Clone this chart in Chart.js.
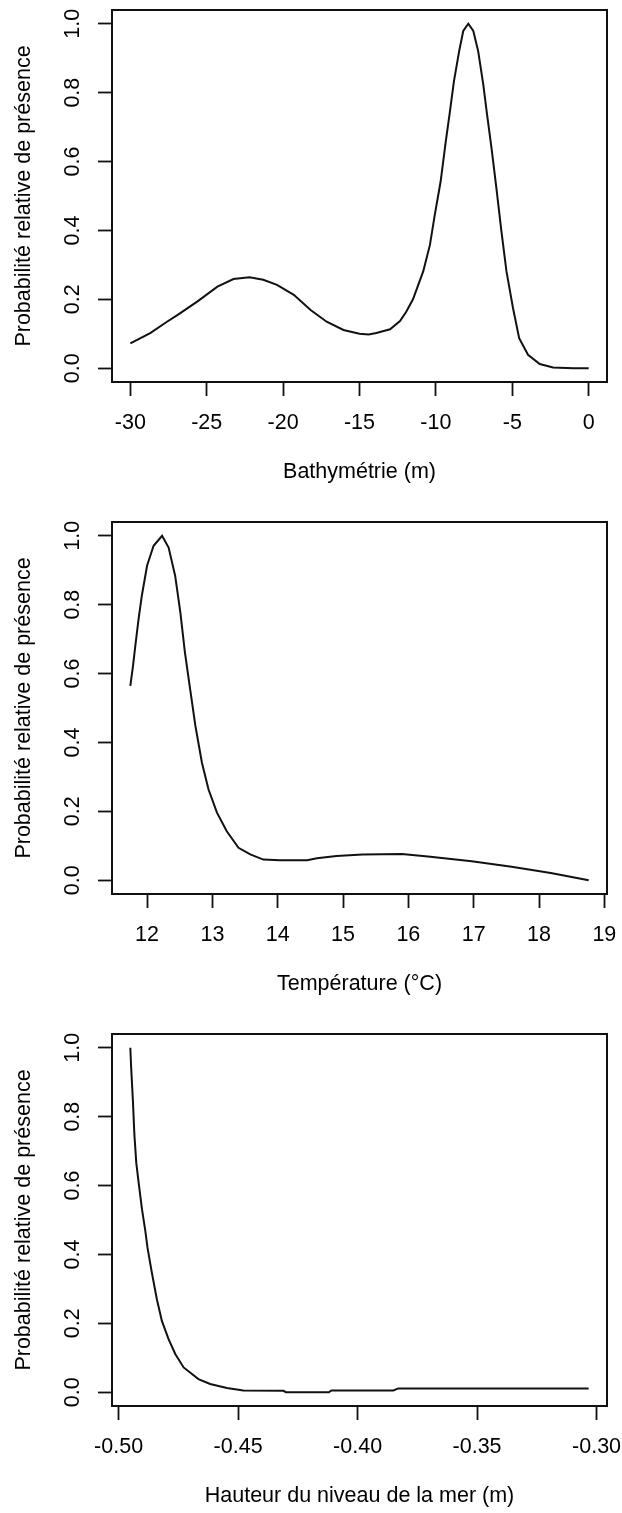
<!DOCTYPE html>
<html>
<head>
<meta charset="utf-8">
<script src="https://cdn.jsdelivr.net/npm/chart.js@4.4.1/dist/chart.umd.min.js"></script>
<style>
  html, body { margin: 0; padding: 0; background: #fff; overflow: hidden; }
  .panel { position: absolute; left: 0; width: 622px; height: 512px; }
</style>
</head>
<body>
<div class="panel" style="top:0px"><canvas id="bathy" width="622" height="512"></canvas></div>
<div class="panel" style="top:512px"><canvas id="temp" width="622" height="512"></canvas></div>
<div class="panel" style="top:1024px"><canvas id="mer" width="622" height="512"></canvas></div>
<script>
// Bathymétrie (m)
const bathyX = [-30.0, -28.7, -27.6, -26.9, -25.6, -24.3, -23.25, -22.2, -21.3, -20.4, -19.3, -18.2,
  -17.15, -16.05, -15.0, -14.4, -13.9, -13.0, -12.35, -11.95, -11.5, -10.83, -10.39, -10.07, -9.69,
  -9.35, -9.08, -8.82, -8.48, -8.21, -7.88, -7.55, -7.23, -6.9, -6.65, -6.36, -6.04, -5.71, -5.38,
  -4.95, -4.55, -3.97, -3.2, -2.33, -1.0, 0.0];
const bathyY = [0.072, 0.102, 0.135, 0.155, 0.194, 0.237, 0.259, 0.264, 0.257, 0.242, 0.213, 0.169,
  0.135, 0.111, 0.100, 0.098, 0.102, 0.113, 0.137, 0.163, 0.200, 0.281, 0.358, 0.446, 0.542,
  0.659, 0.746, 0.833, 0.920, 0.979, 1.0, 0.979, 0.920, 0.824, 0.736, 0.640, 0.523, 0.397, 0.281,
  0.174, 0.087, 0.039, 0.012, 0.002, 0.0, 0.0];

// Température (°C)
const tempX = [11.744, 11.785, 11.82, 11.87, 11.92, 12.0, 12.1, 12.23, 12.33, 12.43, 12.51, 12.58,
  12.66, 12.74, 12.84, 12.94, 13.07, 13.22, 13.4, 13.58, 13.78, 14.03, 14.45, 14.6, 14.9, 15.3,
  15.9, 16.3, 16.97, 17.58, 18.18, 18.76];
const tempY = [0.564, 0.622, 0.680, 0.758, 0.826, 0.913, 0.971, 1.0, 0.966, 0.884, 0.777, 0.661,
  0.554, 0.448, 0.341, 0.264, 0.196, 0.142, 0.094, 0.075, 0.060, 0.058, 0.058, 0.064, 0.070, 0.075,
  0.076, 0.069, 0.055, 0.039, 0.021, 0.0];

// Hauteur du niveau de la mer (m)
const merX = [-0.4951, -0.4948, -0.494, -0.4934, -0.4926, -0.4916, -0.4902, -0.4888, -0.4879, -0.4861,
  -0.484, -0.4819, -0.4791, -0.4763, -0.4728, -0.4666, -0.4617, -0.4547, -0.4478, -0.431, -0.430,
  -0.412, -0.411, -0.385, -0.383, -0.3033];
const merY = [1.0, 0.949, 0.843, 0.747, 0.665, 0.607, 0.530, 0.467, 0.419, 0.347,
  0.270, 0.207, 0.154, 0.111, 0.072, 0.038, 0.024, 0.012, 0.005, 0.004, 0.0,
  0.0, 0.005, 0.005, 0.011, 0.011];

const bathyTicks = [-30, -25, -20, -15, -10, -5, 0];
const tempTicks = [12, 13, 14, 15, 16, 17, 18, 19];
const merTicks = [-0.5, -0.45, -0.4, -0.35, -0.3];
const probTicks = [0, 0.2, 0.4, 0.6, 0.8, 1.0];
const yTitle = 'Probabilité relative de présence';

Chart.defaults.font.family = '"Liberation Sans", Arial, sans-serif';
Chart.defaults.font.size = 21.5;
Chart.defaults.color = '#000';

// R draws a full box round the plot region
const boxPlugin = {
  id: 'box',
  afterDraw(chart) {
    const { ctx, chartArea: a } = chart;
    ctx.save();
    ctx.strokeStyle = '#111';
    ctx.lineWidth = 2;
    ctx.strokeRect(a.left, a.top, a.right - a.left, a.bottom - a.top);
    ctx.restore();
  },
};

const tickGrid = {
  display: true,
  drawOnChartArea: false,
  drawTicks: true,
  tickLength: 14,
  tickWidth: 1.8,
  tickColor: '#111',
};

function drawPanel(id, xs, ys, xTicks, decimals, xTitle) {
  // R's default 4% extension of the data range
  const lo = Math.min(...xs);
  const hi = Math.max(...xs);
  const pad = (hi - lo) * 0.04;

  return new Chart(document.getElementById(id), {
    type: 'line',
    data: {
      datasets: [
        {
          data: xs.map((x, i) => ({ x, y: ys[i] })),
          borderColor: '#111',
          borderWidth: 2,
          pointRadius: 0,
          tension: 0,
          fill: false,
        },
      ],
    },
    options: {
      responsive: false,
      animation: false,
      events: [],
      layout: { padding: { top: 10, right: 15, bottom: 0, left: 0 } },
      plugins: {
        legend: { display: false },
        tooltip: { enabled: false },
      },
      scales: {
        x: {
          type: 'linear',
          min: lo - pad,
          max: hi + pad,
          afterBuildTicks: (s) => { s.ticks = xTicks.map((v) => ({ value: v })); },
          afterFit: (s) => {
            s.height = 130;
            s.paddingLeft = 0;
            s.paddingRight = 0;
          },
          grid: tickGrid,
          border: { display: false },
          ticks: {
            color: '#000',
            padding: 14,
            autoSkip: false,
            minRotation: 0,
            maxRotation: 0,
            callback: (v) => Number(v).toFixed(decimals),
          },
          title: { display: true, text: xTitle, color: '#000', padding: { top: 0, bottom: 27 } },
        },
        y: {
          type: 'linear',
          min: -0.04,
          max: 1.04,
          afterBuildTicks: (s) => { s.ticks = probTicks.map((v) => ({ value: v })); },
          afterFit: (s) => {
            s.width = 112;
            s.paddingTop = 0;
            s.paddingBottom = 0;
          },
          grid: tickGrid,
          border: { display: false },
          ticks: {
            color: '#000',
            padding: 9.6,
            minRotation: 90,
            maxRotation: 90,
            crossAlign: 'center',
            callback: (v) => Number(v).toFixed(1),
          },
          title: { display: true, text: yTitle, color: '#000', padding: { top: 11, bottom: 0 } },
        },
      },
    },
    plugins: [boxPlugin],
  });
}

drawPanel('bathy', bathyX, bathyY, bathyTicks, 0, 'Bathymétrie (m)');
drawPanel('temp', tempX, tempY, tempTicks, 0, 'Température (°C)');
drawPanel('mer', merX, merY, merTicks, 2, 'Hauteur du niveau de la mer (m)');
</script>
</body>
</html>
